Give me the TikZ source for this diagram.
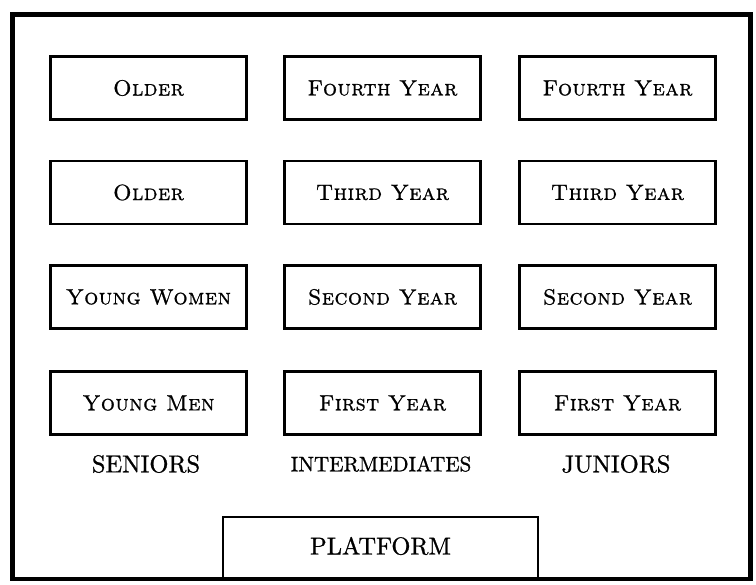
\documentclass[tikz,border=0pt]{standalone}
\usepackage{fontspec}
\newfontfamily\heavyrm{lmroman10-regular}[Extension=.otf, FakeBold=0.9,
  SmallCapsFont=lmromancaps10-regular, SmallCapsFeatures={FakeBold=0.9,LetterSpace=2}]
\begin{document}
\begin{tikzpicture}[x=1pt,y=-1pt,
  seat/.style={draw,line width=2.6pt,minimum width=196pt,minimum height=63pt,inner sep=0pt,font=\heavyrm\fontsize{22}{26}\selectfont\scshape},
  grp/.style={font=\heavyrm\fontsize{24.5}{28}\selectfont},
  frame/.style={line width=4.5pt}]
\useasboundingbox (0,0) rectangle (756,585);
\fill[white] (0,0) rectangle (756,585);
\draw[frame] (12.5,14.5) rectangle (750.5,579);
% column 1
\node[seat] (s1) at (148.5,88) {Older};
\node[seat] (s2) at (148.5,192.5) {Older};
\node[seat] (s3) at (148.5,297) {Young Women};
\node[seat] (s4) at (148.5,403) {Young Men};
% column 2
\node[seat] (i1) at (382.5,88) {Fourth Year};
\node[seat] (i2) at (382.5,192.5) {Third Year};
\node[seat] (i3) at (382.5,297) {Second Year};
\node[seat] (i4) at (382.5,403) {First Year};
% column 3
\node[seat] (j1) at (617.5,88) {Fourth Year};
\node[seat] (j2) at (617.5,192.5) {Third Year};
\node[seat] (j3) at (617.5,297) {Second Year};
\node[seat] (j4) at (617.5,403) {First Year};
% group labels
\node[grp] (ls) at (146,464) {SENIORS};
\node[grp,font=\heavyrm\fontsize{21}{25}\selectfont] (li) at (381,464) {INTERMEDIATES};
\node[grp] (lj) at (616,464) {JUNIORS};
% platform
\draw[line width=2.6pt] (223,579) -- (223,517) -- (538,517) -- (538,579);
\node[grp] (pl) at (380.5,546) {PLATFORM};
\end{tikzpicture}
\end{document}
